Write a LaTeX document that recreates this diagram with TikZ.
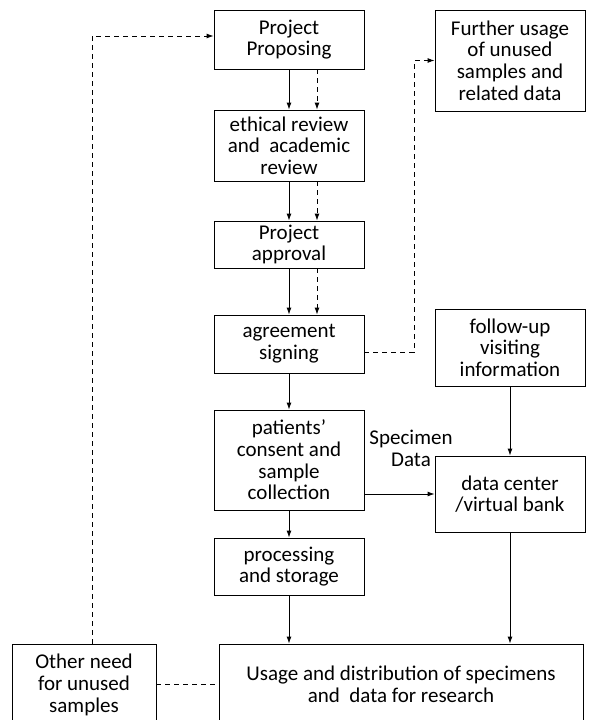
\documentclass[tikz,border=0pt]{standalone}
\usepackage{fontspec}
\setmainfont{Carlito}
\usetikzlibrary{arrows.meta}

\begin{document}
\begin{tikzpicture}[x=1pt,y=-1pt,
	>={Latex[length=7pt,width=5pt]},line width=0.9pt,
	font=\fontsize{21}{21.7}\selectfont,
	step node/.style={rectangle,draw,align=center,minimum width=150pt,inner sep=0pt},
	wide node/.style={rectangle,draw,align=center,inner sep=0pt},
	link/.style={dash pattern=on 5pt off 4pt}
]

	\useasboundingbox (0,0) rectangle (590,720);

	\def \d {28pt};

	% main column
	\node[step node,minimum height=59pt] (prop) at (289,39.5) {Project\\Proposing};
	\node[step node,minimum height=71pt] (ethic) at (289,145.5) {ethical review\\and\ \ academic\\review};
	\node[step node,minimum height=47pt] (appr) at (289,244.5) {Project\\approval};
	\node[step node,minimum height=58pt] (agree) at (289,344) {agreement\\signing};
	\node[step node,minimum height=100pt] (consent) at (289,460) {patients’\\consent and\\sample\\collection};
	\node[step node,minimum height=57pt] (proc) at (289,566.5) {processing\\and storage};
	\node[wide node,minimum width=364pt,minimum height=80pt] (usage) at (401,684) {Usage and distribution of specimens\\and\ \ data for research};

	% right and left boxes
	\node[step node,minimum height=101pt] (further) at (510,60.5) {Further usage\\of unused\\samples and\\related data};
	\node[step node,minimum height=77pt] (follow) at (510,347.5) {follow-up\\visiting\\information};
	\node[step node,minimum height=76pt] (dcenter) at (510,494) {data center\\/virtual bank};
	\node[wide node,minimum width=144pt,minimum height=82pt] (other) at (84,685) {Other need\\for unused\\samples};

	\foreach \a/\b in {prop/ethic,ethic/appr,appr/agree} {
		\draw[->] (\a) -- (\b);
		\draw[->,link] ([xshift=\d]\a.south) -- ([xshift=\d]\b.north);
	}
	\draw[->] (agree) -- (consent);
	\draw[->] (consent) -- (proc);
	\draw[->] (proc.south) -- (proc.south |- usage.north);

	\draw[->] (consent.east |- dcenter.west) -- (dcenter.west);
	\node[align=center,inner sep=0pt] (spec) at (411,448) {Specimen\\Data};
	\draw[->] (follow) -- (dcenter);
	\draw[->] (dcenter.south) -- (dcenter.south |- usage.north);

	% dashed feedback lines
	\coordinate (turn) at (414,352);
	\draw[->,link] (agree.east |- turn) -- (turn) |- (further.west);
	\coordinate (up) at (92,36);
	\draw[->,link] (up |- other.north) -- (up) -- (up -| prop.west);
	\draw[link] (other.east |- usage.west) -- (usage.west);
\end{tikzpicture}
\end{document}
